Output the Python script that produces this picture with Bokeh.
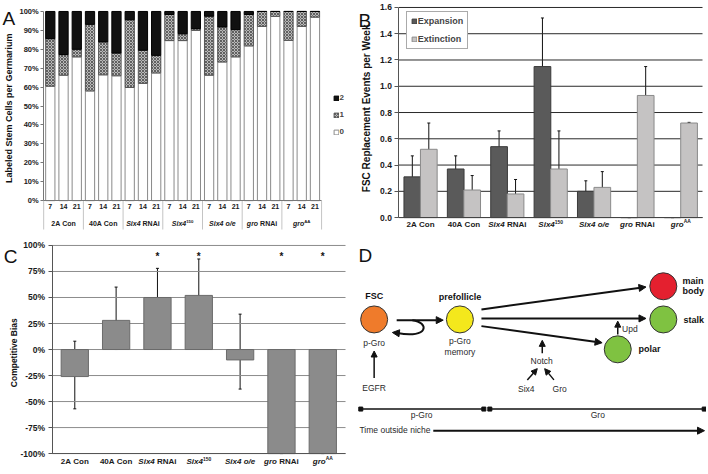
import math
from bokeh.plotting import figure
from bokeh.layouts import column, row
from bokeh.models import (ColumnDataSource, FixedTicker, Legend, LegendItem, Whisker,
                          TeeHead, Arrow, NormalHead, PrintfTickFormatter, NumeralTickFormatter,
                          Range1d)
from bokeh.core.properties import value
from bokeh.embed import file_html
from bokeh.resources import INLINE

FONT = "Liberation Sans"

# ---------------- data ----------------
days = ["7", "14", "21"]
groups = ["2A Con", "40A Con", "Six4 RNAi", "Six4¹⁵⁰", "Six4 o/e", "gro RNAi", "groᴬᴬ"]

# Panel A: % of germaria with 0 / 1 / 2 labeled stem cells (7, 14, 21 d per group)
pct_0 = [60.5, 66.3, 76.0, 58.0, 66.5, 66.0, 59.8, 62.0, 67.5, 84.6, 84.6, 90.0,
         66.3, 73.3, 76.0, 81.8, 92.1, 97.4, 84.7, 92.1, 97.0]
pct_1 = [25.1, 10.9, 4.0, 35.2, 17.4, 12.0, 35.8, 17.5, 9.3, 13.8, 3.6, 0.9,
         31.2, 18.5, 14.4, 16.6, 7.9, 2.6, 15.3, 7.9, 3.0]
pct_2 = [14.4, 22.8, 20.0, 6.8, 16.1, 22.0, 4.4, 20.5, 23.2, 1.6, 11.8, 9.1,
         2.5, 8.2, 9.6, 1.6, 0.0, 0.0, 0.0, 0.0, 0.0]
stack_labels = ["0", "1", "2"]

# Panel B: FSC replacement events per week
expansion = [0.31, 0.37, 0.54, 1.15, 0.20, 0.0, 0.0]
expansion_lo = [0.18, 0.29, 0.44, 0.90, 0.13, 0.0, 0.0]
expansion_hi = [0.47, 0.47, 0.66, 1.52, 0.28, 0.0, 0.0]
extinction = [0.52, 0.21, 0.18, 0.37, 0.23, 0.93, 0.72]
extinction_lo = [0.36, 0.11, 0.08, 0.11, 0.12, 0.75, 0.715]
extinction_hi = [0.72, 0.32, 0.29, 0.66, 0.35, 1.15, 0.725]

# Panel C: competitive bias (%)
bias = [-26, 28, 50, 52, -10, -100, -100]
bias_lo = [-57, 0, 26, 22, -38, -100, -100]
bias_hi = [8, 60, 78, 87, 34, -93, -91]
significant = [False, False, True, True, False, True, True]

# ---------------- helpers ----------------
FW, FH = 353, 236
SX = 2 * FW / 708
SY = 2 * FH / 474

WB = {' ': 278, 'A': 722, 'C': 722, 'N': 722, 'R': 722, 'S': 667, 'a': 556, 'e': 556,
      'g': 611, 'i': 278, 'n': 611, 'o': 611, 'r': 389, 'x': 556, '/': 278}
SUP = {"¹": "1", "⁵": "5", "⁰": "0", "ᴬ": "A"}
ITALIC = {"Six4", "gro", "o/e"}


def tw(s, f):
    return sum(WB.get(c, 556) for c in s) * f / 1000.0


def segments(name):
    segs = []
    for wi, word in enumerate(name.split(" ")):
        base = "".join(c for c in word if c not in SUP)
        sup = "".join(SUP[c] for c in word if c in SUP)
        segs.append((base, "bi" if base in ITALIC else "b", wi > 0))
        if sup:
            segs.append((sup, "sup", False))
    return segs


class Panel:
    """Figure whose frame fills the canvas; the plot area sits at a box given in
    page pixels (left, right, top, bottom), col/row give the grid cell."""

    def __init__(self, col, rw, box, xr, yr):
        self.ox, self.oy = col * FW, rw * FH
        l = self.fx(box[0])
        r = FW - self.fx(box[1])
        t = self.fy(box[2])
        b = FH - self.fy(box[3])
        x0, x1 = xr
        y0, y1 = yr
        self.k = (x1 - x0) / (FW - l - r)
        self.m = (y1 - y0) / (FH - t - b)
        self.xs = x0 - l * self.k
        self.ys = y0 - b * self.m
        self.p = figure(width=FW, height=FH, output_backend="svg", toolbar_location=None,
                        x_range=Range1d(self.xs, x1 + r * self.k),
                        y_range=Range1d(self.ys, y1 + t * self.m), min_border=0)
        p = self.p
        p.outline_line_color = None
        p.grid.visible = False
        p.background_fill_color = "white"
        p.border_fill_color = "white"

    def fx(self, rx):
        return SX * rx - self.ox

    def fy(self, ry):
        return SY * ry - self.oy

    def dx(self, rx):
        return self.xs + self.fx(rx) * self.k

    def dy(self, ry):
        return self.ys + (FH - self.fy(ry)) * self.m

    def text(self, rx, ry, s, size, style="normal", angle=0.0, align="left",
             baseline="alphabetic", color="#111111"):
        self.p.text(x=[self.dx(rx)], y=[self.dy(ry)], text=[s], angle=angle,
                    text_font=value(FONT), text_font_size=size, text_font_style=style,
                    text_align=align, text_baseline=baseline, text_color=color)

    def cat_labels(self, xs, ry, names, f, color="#1a1a1a"):
        rows = {}
        for xc, name in zip(xs, names):
            parts = []
            cur = 0.0
            for t, k, space in segments(name):
                ff = f * 0.62 if k == "sup" else f
                if space:
                    cur += tw(" ", f)
                parts.append((cur, t, k, ff))
                cur += tw(t, ff)
            for off, t, k, ff in parts:
                style = "bold italic" if k == "bi" else "bold"
                yy = self.dy(ry - (0.33 * f if k == "sup" else 0))
                d = rows.setdefault((round(ff, 2), style), dict(x=[], y=[], t=[], o=[]))
                d["x"].append(xc)
                d["y"].append(yy)
                d["t"].append(t)
                d["o"].append(off - cur / 2)
        for (ff, style), d in rows.items():
            self.p.text(x=d["x"], y=d["y"], text=d["t"], x_offset=d["o"],
                        text_font=value(FONT), text_font_size=f"{ff}px",
                        text_font_style=style, text_align="left", text_baseline="middle",
                        text_color=color)


def style_axis(ax, size):
    ax.major_label_text_font = FONT
    ax.major_label_text_font_style = "bold"
    ax.major_label_text_font_size = size
    ax.major_label_text_color = "#1a1a1a"
    ax.minor_tick_line_color = None
    ax.major_tick_in = 0


def bare_x_axis(ax, loc, bounds, color):
    ax.fixed_location = loc
    ax.bounds = bounds
    ax.ticker = FixedTicker(ticks=[])
    ax.major_label_text_font_size = "0px"
    ax.major_tick_out = 0
    ax.major_tick_in = 0
    ax.axis_line_color = color
    ax.minor_tick_line_color = None


# ---------------- Panel A ----------------
A = Panel(0, 0, (43.3, 322, 11, 201), (-0.5, 20.5), (0, 100))
pa = A.p
xa = list(range(len(pct_0)))
seps = [-0.5 + 3 * g for g in range(len(groups) + 1)]
pa.segment(x0=seps, x1=seps, y0=[0] * len(seps), y1=[A.dy(230)] * len(seps),
           line_color="#c4c4c4", line_width=1)

srcA = ColumnDataSource(dict(x=xa, p0=pct_0, p1=pct_1, p2=pct_2))
rA = pa.vbar_stack(["p0", "p1", "p2"], x="x", width=0.7, source=srcA,
                   fill_color=["white", "#b9b9b9", "#111111"],
                   line_color=["#8a8a8a", "#555555", "#000000"], line_width=1,
                   hatch_pattern=[None, "diagonal_cross", None], hatch_color="#3a3a3a",
                   hatch_scale=3.0, hatch_weight=0.7)

ya = pa.yaxis[0]
style_axis(ya, "7.5px")
ya.fixed_location = -0.5
ya.bounds = (0, 100)
ya.ticker = FixedTicker(ticks=list(range(0, 101, 10)))
ya.formatter = PrintfTickFormatter(format="%d%%")
ya.major_tick_out = 3
ya.axis_line_color = "#777777"
ya.major_tick_line_color = "#777777"
ya.major_label_standoff = 2

bare_x_axis(pa.xaxis[0], 0, (-0.5, 20.5), "#777777")

# day labels under each bar, group labels beneath them
pa.text(x=xa, y=[A.dy(207)] * len(xa), text=[days[i % len(days)] for i in xa],
        text_font=value(FONT), text_font_size="7px", text_font_style="bold",
        text_align="center", text_baseline="middle", text_color="#1a1a1a")
A.cat_labels([3 * g + 1 for g in range(len(groups))], 224, groups, 7)

legA = Legend(items=[LegendItem(label=stack_labels[2], renderers=[rA[2]]),
                     LegendItem(label=stack_labels[1], renderers=[rA[1]]),
                     LegendItem(label=stack_labels[0], renderers=[rA[0]])],
              location=(A.fx(333.5), FH - A.fy(136.7)), orientation="vertical",
              glyph_width=6, glyph_height=6,
              label_height=8, label_text_font=FONT, label_text_font_size="8px",
              label_text_font_style="bold", label_standoff=1, spacing=8, padding=0,
              margin=0, border_line_color=None, background_fill_alpha=0)
pa.add_layout(legA)

A.text(9, 108.3, "Labeled Stem Cells per Germarium", "9px", style="bold",
       angle=math.pi / 2, align="center", baseline="middle")
A.text(2, 18.3, "A", "19px")

# ---------------- Panel B ----------------
B = Panel(1, 0, (399.5, 704, 7, 218), (-0.5, 6.5), (0, 1.6))
pb = B.p
xb = list(range(len(groups)))
off = 0.19
yb_ticks = [round(0.2 * i, 1) for i in range(9)]
pb.segment(x0=[-0.5] * len(yb_ticks), x1=[6.5] * len(yb_ticks), y0=yb_ticks, y1=yb_ticks,
           line_color="#2a2a2a", line_width=1)

srcB = ColumnDataSource(dict(
    xe=[x - off for x in xb], xt=[x + off for x in xb],
    exp=expansion, exp_lo=expansion_lo, exp_hi=expansion_hi,
    ext=extinction, ext_lo=extinction_lo, ext_hi=extinction_hi))
rE = pb.vbar(x="xe", top="exp", width=0.385, source=srcB, fill_color="#5a5a5a",
             line_color="#3a3a3a", line_width=1)
rX = pb.vbar(x="xt", top="ext", width=0.385, source=srcB, fill_color="#c5c3c3",
             line_color="#8a8a8a", line_width=1)
for base, lo, hi in (("xe", "exp_lo", "exp_hi"), ("xt", "ext_lo", "ext_hi")):
    pb.add_layout(Whisker(source=srcB, base=base, lower=lo, upper=hi, dimension="height",
                          line_color="#111111", line_width=1,
                          lower_head=TeeHead(size=3, line_color="#111111", line_width=1),
                          upper_head=TeeHead(size=3, line_color="#111111", line_width=1)))

yb = pb.yaxis[0]
style_axis(yb, "8.5px")
yb.fixed_location = -0.5
yb.bounds = (0, 1.6)
yb.ticker = FixedTicker(ticks=yb_ticks)
yb.formatter = NumeralTickFormatter(format="0.0")
yb.major_tick_out = 4
yb.axis_line_color = "#555555"
yb.major_tick_line_color = "#555555"
yb.major_label_standoff = 3

bare_x_axis(pb.xaxis[0], 0, (-0.5, 6.5), "#444444")

B.cat_labels(xb, 225, groups, 8)

legB = Legend(items=[LegendItem(label="Expansion", renderers=[rE]),
                     LegendItem(label="Extinction", renderers=[rX])],
              location=(B.fx(407), FH - B.fy(49)), orientation="vertical",
              glyph_width=6, glyph_height=6,
              label_height=10, label_text_font=FONT, label_text_font_size="9px",
              label_text_font_style="bold", label_standoff=1, spacing=8, padding=4,
              margin=0, border_line_color="#555555", border_line_width=1,
              background_fill_color="white", background_fill_alpha=1)
pb.add_layout(legB)

B.text(367, 108.3, "FSC Replacement Events per Week", "10px", style="bold",
       angle=math.pi / 2, align="center", baseline="middle")
B.text(359, 20, "B", "19px")

# ---------------- Panel C ----------------
C = Panel(0, 1, (51.7, 346, 246, 455), (-0.55, 6.55), (-100, 100))
pc = C.p
xc = list(range(len(groups)))
yc_ticks = list(range(-100, 101, 25))
pc.segment(x0=[-0.55] * len(yc_ticks), x1=[6.55] * len(yc_ticks), y0=yc_ticks, y1=yc_ticks,
           line_color="#8c8c8c", line_width=1)

srcC = ColumnDataSource(dict(x=xc, b=bias, lo=bias_lo, hi=bias_hi))
pc.vbar(x="x", top="b", bottom=0, width=0.66, source=srcC, fill_color="#8b8b8b",
        line_color="#6a6a6a", line_width=1)
pc.add_layout(Whisker(source=srcC, base="x", lower="lo", upper="hi", dimension="height",
                      line_color="#111111", line_width=1,
                      lower_head=TeeHead(size=3, line_color="#111111", line_width=1),
                      upper_head=TeeHead(size=3, line_color="#111111", line_width=1)))
star_x = [x for x, s in zip(xc, significant) if s]
pc.text(x=star_x, y=[89] * len(star_x), text=["*"] * len(star_x),
        text_font=value(FONT), text_font_size="10px", text_font_style="bold",
        text_align="center", text_baseline="middle", text_color="#111111")

yc = pc.yaxis[0]
style_axis(yc, "8.5px")
yc.fixed_location = -0.55
yc.bounds = (-100, 100)
yc.ticker = FixedTicker(ticks=yc_ticks)
yc.formatter = PrintfTickFormatter(format="%d%%")
yc.major_tick_out = 4
yc.axis_line_color = "#555555"
yc.major_tick_line_color = "#555555"
yc.major_label_standoff = 3

bare_x_axis(pc.xaxis[0], -100, (-0.55, 6.55), "#555555")

C.cat_labels(xc, 463, groups, 8)

C.text(13.3, 353.7, "Competitive Bias", "8.5px", style="bold",
       angle=math.pi / 2, align="center", baseline="middle")
C.text(3.3, 257, "C", "19px")

# ---------------- Panel D (diagram) ----------------
pd = figure(width=FW, height=FH, x_range=Range1d(0, FW), y_range=Range1d(0, FH),
            output_backend="svg", toolbar_location=None, x_axis_location=None,
            y_axis_location=None, min_border=0)
pd.outline_line_color = None
pd.grid.grid_line_color = None


def X(r):
    return SX * r - FW


def Y(r):
    return 2 * FH - SY * r


def arrow(x0, y0, x1, y1, w=2.0, size=7):
    pd.add_layout(Arrow(end=NormalHead(size=size, fill_color="#111111", line_color="#111111",
                                       line_width=1),
                        x_start=X(x0), y_start=Y(y0), x_end=X(x1), y_end=Y(y1),
                        line_color="#111111", line_width=w))


# timeline
pd.segment(x0=[X(361.3), X(490.7)], y0=[Y(410.3)] * 2, x1=[X(484.7), X(705.7)],
           y1=[Y(410.3)] * 2, line_color="#111111", line_width=1.4)
pd.scatter(x=[X(361.3), X(484.7), X(490.7), X(705.7)], y=[Y(410.3)] * 4, marker="square",
           size=4, fill_color="#111111", line_color="#111111")

# arrows
arrow(397.3, 321, 444, 321)
arrow(482.3, 310.3, 647.3, 287.7)
arrow(482.3, 319.3, 647.3, 319.3)
arrow(482.3, 327, 603.3, 343.7)
arrow(434, 432, 706, 432)
arrow(374.7, 379, 374.7, 352, w=1.5, size=6)
arrow(619, 335.5, 619, 322, w=1.5, size=6)
arrow(543.3, 354.3, 543.3, 341.3, w=1.5, size=6)
arrow(528.3, 381, 538.3, 369.7, w=1.5, size=6)
arrow(555, 381, 545.7, 369.7, w=1.5, size=6)

# curl back to FSC
pd.bezier(x0=[X(413)], y0=[Y(321)], x1=[X(398)], y1=[Y(334)],
          cx0=[X(430)], cy0=[Y(323)], cx1=[X(430)], cy1=[Y(340)],
          line_color="#111111", line_width=2)
arrow(398.5, 334, 393, 333.4, w=2, size=7)

# cells
pd.scatter(x=[X(374.7), X(460.7), X(664.7), X(664.7), X(619)],
           y=[Y(320.3), Y(320.3), Y(287), Y(320.3), Y(350.3)],
           size=27, fill_color=["#ef7b2b", "#f4e81c", "#e4202f", "#7fc241", "#7fc241"],
           line_color="#333333", line_width=1)

# bold labels
pd.text(x=[X(374.7), X(460.7)], y=[Y(297), Y(298)], text=["FSC", "prefollicle"],
        text_font=value(FONT), text_font_size="9px", text_font_style="bold",
        text_align="center", text_baseline="middle", text_color="#111111")
pd.text(x=[X(684), X(684), X(685), X(639.7)], y=[Y(282), Y(292), Y(321), Y(350.3)],
        text=["main", "body", "stalk", "polar"],
        text_font=value(FONT), text_font_size="9px", text_font_style="bold",
        text_align="left", text_baseline="middle", text_color="#111111")
# regular labels
pd.text(x=[X(374.7), X(374.7), X(460.7), X(460.7), X(542.7), X(527.3), X(560.7),
           X(422.3), X(599)],
        y=[Y(344.3), Y(389.3), Y(342), Y(352.7), Y(362), Y(389.7), Y(389.7),
           Y(416.3), Y(416.3)],
        text=["p-Gro", "EGFR", "p-Gro", "memory", "Notch", "Six4", "Gro", "p-Gro", "Gro"],
        text_font=value(FONT), text_font_size="8.5px", text_align="center",
        text_baseline="middle", text_color="#2a2a2a")
pd.text(x=[X(623.3), X(360)], y=[Y(330.3), Y(431.3)], text=["Upd", "Time outside niche"],
        text_font=value(FONT), text_font_size="8.5px", text_align="left",
        text_baseline="middle", text_color="#2a2a2a")
pd.text(x=[X(359)], y=[Y(256.3)], text=["D"], text_font=value(FONT),
        text_font_size="19px", text_align="left", text_baseline="alphabetic",
        text_color="#111111")

layout = column(row(pa, pb), row(pc, pd))
open("out.html", "w").write(file_html(layout, INLINE))
